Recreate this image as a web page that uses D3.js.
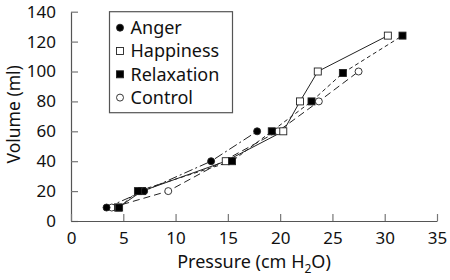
<!DOCTYPE html>
<html>
<head>
<meta charset="utf-8">
<script src="https://cdn.jsdelivr.net/npm/d3@7"></script>
<style>
  body { margin: 0; background: #fff; }
  svg { display: block; font-family: "Noto Sans", sans-serif; }
</style>
</head>
<body>
<div id="main"></div>
<script>
// values (pressure cm H2O, volume ml)
const angerX = [3.4, 7.0, 13.4, 17.8];
const angerY = [9, 20, 40, 60];
const happyX = [4.5, 6.8, 14.8, 20.3, 21.9, 23.6, 30.3];
const happyY = [9, 20, 40, 60, 80, 100, 124];
const relaxX = [4.6, 6.4, 15.4, 19.2, 23.0, 26.0, 31.7];
const relaxY = [9, 20, 40, 60, 80, 99, 124];
const controlX = [3.9, 9.3, 19.8, 23.7, 27.5];
const controlY = [9, 20, 60, 80, 100];

const xTicks = [0, 5, 10, 15, 20, 25, 30, 35];
const yTicks = [0, 20, 40, 60, 80, 100, 120, 140];

const series = [
  {name: "Anger", xs: angerX, ys: angerY, shape: "circle", fill: "#000", dash: "9,3,2,3"},
  {name: "Happiness", xs: happyX, ys: happyY, shape: "square", fill: "#fff", dash: null},
  {name: "Relaxation", xs: relaxX, ys: relaxY, shape: "square", fill: "#000", dash: "4,3"},
  {name: "Control", xs: controlX, ys: controlY, shape: "circle", fill: "#fff", dash: "7,4"}
];

let width = 450, height = 280;
let margin = {top: 11.7, right: 13, bottom: 59, left: 71};
let w = width - margin.left - margin.right,
    h = height - margin.top - margin.bottom;

let x = d3.scaleLinear().domain([0, 35]).range([0, w]);
let y = d3.scaleLinear().domain([0, 140]).range([h, 0]);

let svg = d3.select("#main").append("svg")
  .attr("width", width)
  .attr("height", height)
  .append("g")
  .attr("transform", "translate(" + margin.left + "," + margin.top + ")");

// axes with inward ticks
let yAxis = svg.append("g")
  .call(d3.axisLeft(y).tickValues(yTicks).tickSizeInner(-7).tickSizeOuter(0).tickPadding(15));
let xAxis = svg.append("g")
  .attr("transform", "translate(0," + h + ")")
  .call(d3.axisBottom(x).tickValues(xTicks).tickSizeInner(-7).tickSizeOuter(0).tickPadding(11));

[xAxis, yAxis].forEach(a => {
  a.select(".domain").attr("stroke", "#555").attr("stroke-width", 1.2);
  a.selectAll(".tick line").attr("stroke", "#777").attr("stroke-width", 1.2);
  a.selectAll(".tick text").attr("fill", "#111").style("font-size", "17px").style("font-family", "Noto Sans");
});

// x title, subscript kept as its own text piece
let title = svg.append("g").attr("transform", "translate(0," + (h + 47) + ")");
let parts = [["Pressure (cm H", 18, 0], ["2", 12, 5], ["O)", 18, 0]];
let pieces = parts.map(p => title.append("text")
  .attr("y", p[2])
  .style("font-size", p[1] + "px")
  .attr("fill", "#111")
  .text(p[0]));
let lens = pieces.map(t => t.node().getComputedTextLength());
let cursor = w / 2 - d3.sum(lens) / 2;
pieces.forEach((t, i) => {
  t.attr("x", cursor);
  cursor += lens[i];
});

svg.append("text")
  .attr("transform", "rotate(-90)")
  .attr("x", -h / 2 + 2)
  .attr("y", -51)
  .attr("text-anchor", "middle")
  .style("font-size", "17.5px")
  .attr("fill", "#111")
  .text("Volume (ml)");

let line = d3.line()
  .x(d => x(d[0]))
  .y(d => y(d[1]));

series.forEach(s => {
  s.pts = s.xs.map((v, i) => [v, s.ys[i]]);
  svg.append("path")
    .datum(s.pts)
    .attr("fill", "none")
    .attr("stroke", "#222")
    .attr("stroke-width", 1)
    .attr("stroke-dasharray", s.dash)
    .attr("d", line);
});

let drawMarker = (g, shape, fill, cx, cy) => {
  if (shape === "circle") {
    g.append("circle").attr("cx", cx).attr("cy", cy).attr("r", 3.5)
      .attr("fill", fill).attr("stroke", "#222").attr("stroke-width", 0.9);
  } else {
    g.append("rect").attr("x", cx - 3.5).attr("y", cy - 3.5)
      .attr("width", 7).attr("height", 7)
      .attr("fill", fill).attr("stroke", "#222").attr("stroke-width", 0.9);
  }
};

// draw markers: control, happiness, anger, relaxation (top)
[3, 1, 0, 2].forEach(k => {
  let s = series[k];
  let g = svg.append("g");
  s.pts.forEach(p => drawMarker(g, s.shape, s.fill, x(p[0]), y(p[1])));
});

// legend
let lg = svg.append("g").attr("transform", "translate(" + (109.5 - margin.left) + "," + (11.7 - margin.top) + ")");
lg.append("rect")
  .attr("width", 123)
  .attr("height", 101)
  .attr("fill", "#fff")
  .attr("stroke", "#555")
  .attr("stroke-width", 1.2);
series.forEach((s, i) => {
  let cy = 16 + i * 23.3;
  drawMarker(lg, s.shape, s.fill, 10.5, cy);
  lg.append("text")
    .attr("x", 21)
    .attr("y", cy)
    .attr("dy", "0.35em")
    .style("font-size", "18px")
    .attr("fill", "#111")
    .text(s.name);
});
</script>
</body>
</html>
